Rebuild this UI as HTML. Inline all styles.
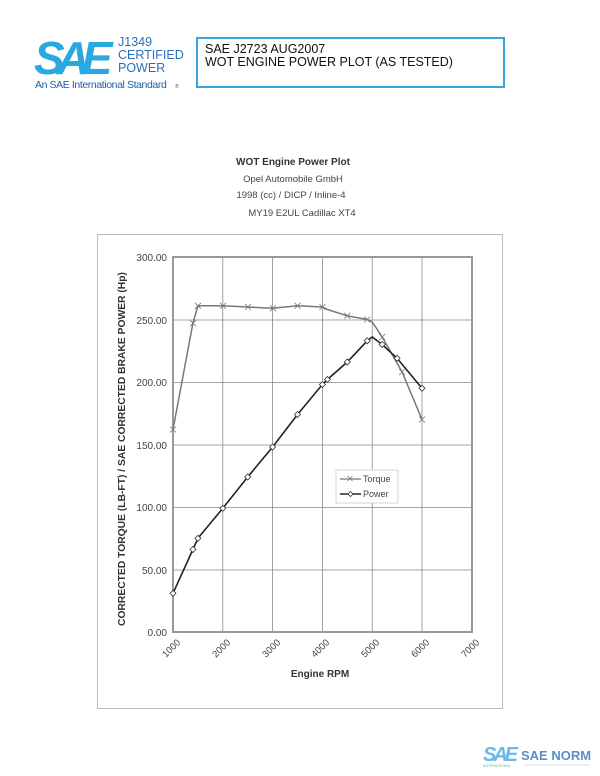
<!DOCTYPE html>
<html><head><meta charset="utf-8"><style>
body{margin:0;background:#fff;width:600px;height:776px;overflow:hidden}
svg{display:block}
</style></head><body>
<svg width="600" height="776" viewBox="0 0 600 776" xmlns="http://www.w3.org/2000/svg" font-family="Liberation Sans, sans-serif">
<!-- logo -->
<text x="34" y="74" font-size="46" font-weight="bold" fill="#2aa9e0" letter-spacing="-8" font-style="italic">SAE</text>
<text x="118" y="46" font-size="12.5" fill="#2b6fb8">J1349</text>
<text x="118" y="59" font-size="12.5" fill="#2b6fb8">CERTIFIED</text>
<text x="118" y="72" font-size="12.5" fill="#2b6fb8">POWER</text>
<text x="35" y="88" font-size="10.5" fill="#1f5ea8" letter-spacing="-0.4">An SAE International Standard</text>
<text x="175" y="88" font-size="5" fill="#1f5ea8">®</text>
<rect x="197" y="38" width="307" height="49" fill="none" stroke="#3aa3de" stroke-width="2"/>
<text x="205" y="53" font-size="12.5" fill="#111">SAE J2723 AUG2007</text>
<text x="205" y="66" font-size="12.5" fill="#111">WOT ENGINE POWER PLOT (AS TESTED)</text>
<!-- titles -->
<text x="293" y="165" font-size="10" font-weight="bold" text-anchor="middle" fill="#333">WOT Engine Power Plot</text>
<text x="293" y="182" font-size="9.5" text-anchor="middle" fill="#444">Opel Automobile GmbH</text>
<text x="291" y="198" font-size="9.5" text-anchor="middle" fill="#444">1998 (cc)  / DICP / Inline-4</text>
<text x="302" y="216" font-size="9.5" text-anchor="middle" fill="#444">MY19 E2UL Cadillac XT4</text>
<!-- outer box -->
<rect x="97.5" y="234.5" width="405" height="474" fill="none" stroke="#bbb" stroke-width="1"/>
<!-- grid -->
<g stroke="#888" stroke-width="0.8">
<line x1="173" y1="320" x2="472" y2="320"/><line x1="173" y1="382.5" x2="472" y2="382.5"/>
<line x1="173" y1="445" x2="472" y2="445"/><line x1="173" y1="507.5" x2="472" y2="507.5"/>
<line x1="173" y1="570" x2="472" y2="570"/>
<line x1="222.8" y1="257" x2="222.8" y2="632"/><line x1="272.6" y1="257" x2="272.6" y2="632"/>
<line x1="322.4" y1="257" x2="322.4" y2="632"/><line x1="372.2" y1="257" x2="372.2" y2="632"/>
<line x1="422" y1="257" x2="422" y2="632"/>
</g>
<rect x="173" y="257" width="299" height="375" fill="none" stroke="#999" stroke-width="2"/>
<!-- y ticks -->
<g font-size="10" fill="#444" text-anchor="end">
<text x="167" y="261">300.00</text><text x="167" y="324">250.00</text><text x="167" y="386">200.00</text>
<text x="167" y="449">150.00</text><text x="167" y="511">100.00</text><text x="167" y="574">50.00</text>
<text x="167" y="636">0.00</text>
</g>
<g font-size="9.5" fill="#444" text-anchor="end">
<text transform="translate(181,643) rotate(-45)">1000</text>
<text transform="translate(231,643) rotate(-45)">2000</text>
<text transform="translate(281,643) rotate(-45)">3000</text>
<text transform="translate(330,643) rotate(-45)">4000</text>
<text transform="translate(380,643) rotate(-45)">5000</text>
<text transform="translate(430,643) rotate(-45)">6000</text>
<text transform="translate(480,643) rotate(-45)">7000</text>
</g>
<text x="320" y="677" font-size="10" font-weight="bold" text-anchor="middle" fill="#333">Engine RPM</text>
<text transform="translate(125,449) rotate(-90)" font-size="10.3" font-weight="bold" text-anchor="middle" fill="#333">CORRECTED TORQUE (LB-FT) / SAE CORRECTED BRAKE POWER (Hp)</text>
<!-- torque -->
<polyline fill="none" stroke="#777" stroke-width="1.5" points="173,429.5 192.9,323.3 197.9,305.8 222.8,305.8 247.7,307 272.6,308.3 297.5,305.8 322.4,307 327.4,309.5 347.3,315.8 367.2,319.5 372.2,322 382.2,337 402.1,372 422,419.5"/>
<g stroke="#777" stroke-width="0.8">
<path d="M170,426.5l6,6M176,426.5l-6,6M190,320.3l6,6M196,320.3l-6,6M195,302.8l6,6M201,302.8l-6,6M220,302.8l6,6M226,302.8l-6,6M245,304l6,6M251,304l-6,6M270,305.3l6,6M276,305.3l-6,6M294.5,302.8l6,6M300.5,302.8l-6,6M319.4,304l6,6M325.4,304l-6,6M344.3,312.8l6,6M350.3,312.8l-6,6M364.2,316.5l6,6M370.2,316.5l-6,6M379.2,334l6,6M385.2,334l-6,6M399.1,369l6,6M405.1,369l-6,6M419,416.5l6,6M425,416.5l-6,6"/>
</g>
<!-- power -->
<polyline fill="none" stroke="#222" stroke-width="1.6" points="173,593.3 192.9,549.5 197.9,538.3 222.8,508.3 247.7,477 272.6,447 297.5,414.5 322.4,384.5 327.4,379.5 347.3,362 367.2,340.8 372.2,337 382.2,344.5 397.1,358.3 422,388.3"/>
<g fill="#fff" stroke="#333" stroke-width="0.8">
<path d="M173,590.3l3,3l-3,3l-3,-3z M192.9,546.5l3,3l-3,3l-3,-3z M197.9,535.3l3,3l-3,3l-3,-3z M222.8,505.3l3,3l-3,3l-3,-3z M247.7,474l3,3l-3,3l-3,-3z M272.6,444l3,3l-3,3l-3,-3z M297.5,411.5l3,3l-3,3l-3,-3z M322.4,381.5l3,3l-3,3l-3,-3z M327.4,376.5l3,3l-3,3l-3,-3z M347.3,359l3,3l-3,3l-3,-3z M367.2,337.8l3,3l-3,3l-3,-3z M382.2,341.5l3,3l-3,3l-3,-3z M397.1,355.3l3,3l-3,3l-3,-3z M422,385.3l3,3l-3,3l-3,-3z"/>
</g>
<!-- legend -->
<rect x="336" y="470" width="62" height="33" fill="#fff" stroke="#ccc" stroke-width="0.8"/>
<line x1="340" y1="479" x2="361" y2="479" stroke="#777" stroke-width="1.2"/>
<path d="M347.5,476l5,5M352.5,476l-5,5" stroke="#777" stroke-width="0.8"/>
<text x="363" y="482" font-size="9" fill="#444">Torque</text>
<line x1="340" y1="494" x2="361" y2="494" stroke="#222" stroke-width="1.4"/>
<path d="M350.5,491.5l2.5,2.5l-2.5,2.5l-2.5,-2.5z" fill="#fff" stroke="#333" stroke-width="0.8"/>
<text x="363" y="497" font-size="9" fill="#444">Power</text>
<!-- bottom logo -->
<text x="483" y="761" font-size="20" font-weight="bold" fill="#6db8e6" font-style="italic" letter-spacing="-3">SAE</text>
<text x="521" y="760" font-size="13" font-weight="bold" fill="#5a8fc8">SAE NORM</text>
<line x1="525" y1="765" x2="590" y2="765" stroke="#9bbde0" stroke-width="0.6"/>
<text x="483" y="767" font-size="3.5" fill="#7aa">INTERNATIONAL</text>
</svg>
</body></html>
